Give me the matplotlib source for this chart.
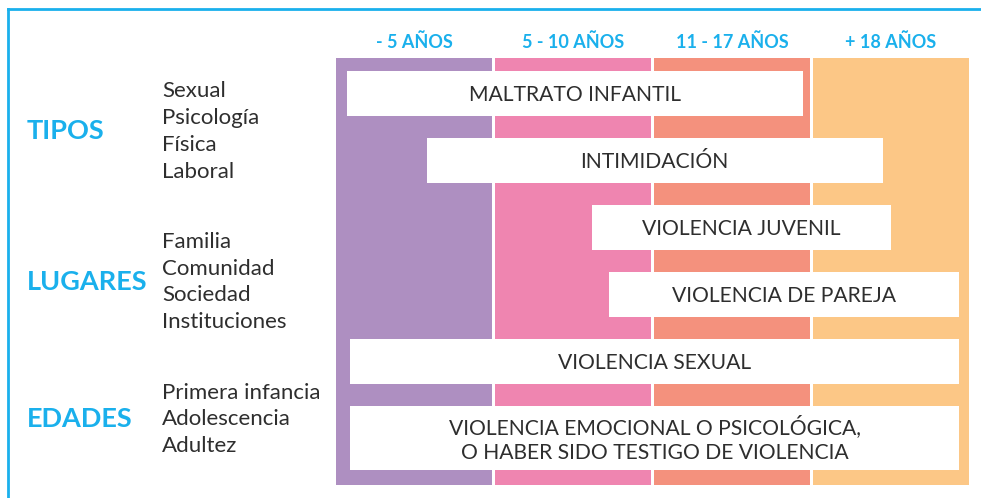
import matplotlib.pyplot as plt
from matplotlib.patches import Rectangle

# age columns (headers) and their colours
age_groups = ["- 5 AÑOS", "5 - 10 AÑOS", "11 - 17 AÑOS", "+ 18 AÑOS"]
age_colors = ["#ae8fc1", "#ef85b0", "#f4917d", "#fcc786"]

# violence types, with the span of age columns they cover (column units)
violence = ["MALTRATO INFANTIL", "INTIMIDACIÓN", "VIOLENCIA JUVENIL",
            "VIOLENCIA DE PAREJA", "VIOLENCIA SEXUAL",
            "VIOLENCIA EMOCIONAL O PSICOLÓGICA,\nO HABER SIDO TESTIGO DE VIOLENCIA"]
span_start = [0.07, 0.57, 1.61, 1.72, 0.09, 0.09]
span_end = [2.94, 3.44, 3.49, 3.92, 3.92, 3.92]
row_height = [0.67, 0.67, 0.67, 0.67, 0.67, 0.96]

# left side categories
groups = ["TIPOS", "LUGARES", "EDADES"]
group_items = [["Sexual", "Psicología", "Física", "Laboral"],
               ["Familia", "Comunidad", "Sociedad", "Instituciones"],
               ["Primera infancia", "Adolescencia", "Adultez"]]
group_row = [0.9, 3.15, 5.2]

blue = "#1ab0ec"
dark = "#2e2e2e"
font = "Lato"

fig = plt.figure(figsize=(9.81, 4.98), dpi=100)
ax = fig.add_axes([0, 0, 1, 1])
ax.set_xlim(-2.113, 4.057)
ax.set_ylim(6.373, -1.06)
ax.axis("off")

col_w = 0.981
for i, (lab, c) in enumerate(zip(age_groups, age_colors)):
    ax.add_patch(Rectangle((i, -0.194), col_w, 6.373, color=c, lw=0))
    ax.text(i + col_w / 2, -0.433, lab, ha="center", va="center",
            color=blue, fontsize=13, fontweight="bold", family=font)

for i, name in enumerate(violence):
    x0, x1, h = span_start[i], span_end[i], row_height[i]
    ax.add_patch(Rectangle((x0, i), x1 - x0, h, color="white", lw=0))
    ax.text((x0 + x1) / 2, i + h / 2 + 0.02, name, ha="center", va="center",
            color=dark, fontsize=15.2, family=font, linespacing=1.3)

for g, items, yc in zip(groups, group_items, group_row):
    ax.text(-1.943, yc, g, ha="left", va="center", color=blue,
            fontsize=19.5, fontweight="bold", family=font)
    n = len(items)
    for k, it in enumerate(items):
        ax.text(-1.094, yc + (k - (n - 1) / 2) * 0.4, it, ha="left",
                va="center", color=dark, fontsize=16, family=font)

# frame lines at top and left
ax.plot([8 / 981, 1], [1 - 9 / 498] * 2, color=blue, lw=2,
        transform=ax.transAxes, clip_on=False)
ax.plot([8 / 981] * 2, [1 - 9 / 498, 0], color=blue, lw=2,
        transform=ax.transAxes, clip_on=False)

fig.savefig("out.png", dpi=100)
